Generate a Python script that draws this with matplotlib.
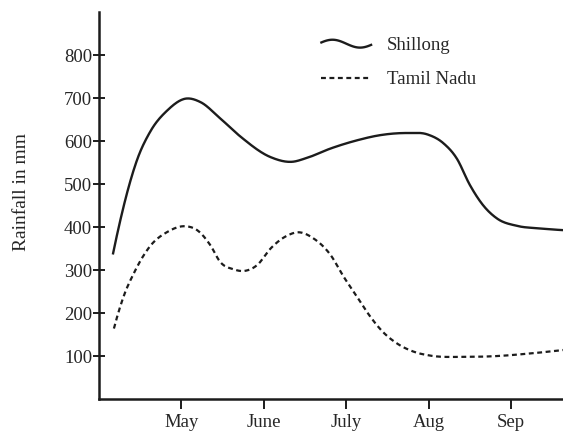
import numpy as np
import matplotlib
matplotlib.use("Agg")
import matplotlib.pyplot as plt
from matplotlib.lines import Line2D
from matplotlib.legend_handler import HandlerBase

# ---- data (month index: May=1 ... Sep=5) ----
months = ["May", "June", "July", "Aug", "Sep"]
month_pos = [1, 2, 3, 4, 5]
yticks = [100, 200, 300, 400, 500, 600, 700, 800]

shillong_t = [0.17, 0.26, 0.34, 0.46, 0.62, 0.83, 1.05, 1.23, 1.47, 1.72, 2.08, 2.34, 2.52,
              2.81, 3.13, 3.41, 3.74, 3.98, 4.18, 4.34, 4.50, 4.66, 4.83, 5.07, 5.35, 5.63]
shillong_v = [339, 418, 480, 556, 622, 672, 699, 691, 653, 610, 563, 552, 561,
              583, 602, 614, 619, 616, 595, 560, 498, 451, 420, 403, 397, 393]

tamil_t = [0.18, 0.30, 0.42, 0.62, 0.83, 1.05, 1.19, 1.35, 1.47, 1.63, 1.76, 1.92, 2.08, 2.28,
           2.42, 2.60, 2.81, 2.97, 3.13, 3.29, 3.45, 3.61, 3.82, 4.02, 4.42, 4.83, 5.23, 5.63]
tamil_v = [164, 240, 292, 356, 389, 402, 393, 358, 319, 302, 298, 312, 350, 380,
           388, 374, 335, 284, 238, 192, 155, 130, 110, 101, 98, 100, 106, 114]


def smooth(x, y, xn):
    """Cubic Hermite curve through the points with three-point slopes."""
    x = np.asarray(x, float); y = np.asarray(y, float)
    h = np.diff(x); d = np.diff(y) / h
    n = len(x); m = np.zeros(n)
    for k in range(1, n - 1):
        m[k] = (d[k - 1] * h[k] + d[k] * h[k - 1]) / (h[k - 1] + h[k])
    m[0] = 2 * d[0] - m[1]
    m[-1] = 2 * d[-1] - m[-2]
    idx = np.clip(np.searchsorted(x, xn) - 1, 0, n - 2)
    hh = h[idx]; s = (xn - x[idx]) / hh
    h00 = 2 * s**3 - 3 * s**2 + 1; h10 = s**3 - 2 * s**2 + s
    h01 = -2 * s**3 + 3 * s**2; h11 = s**3 - s**2
    return h00 * y[idx] + h10 * hh * m[idx] + h01 * y[idx + 1] + h11 * hh * m[idx + 1]


class WaveHandler(HandlerBase):
    def create_artists(self, legend, orig_handle, xdescent, ydescent,
                       width, height, fontsize, trans):
        xs = np.linspace(0, width, 60)
        ys = height / 2 + height * 0.3 * np.sin(np.linspace(-np.pi * 0.9, np.pi * 0.9, 60) + np.pi)
        ln = Line2D(xs - xdescent, ys - ydescent, color="#1c1c1c", lw=1.7)
        ln.set_transform(trans)
        return [ln]


plt.rcParams["font.family"] = ["Liberation Serif", "DejaVu Serif"]
ink = "#262626"

fig = plt.figure(figsize=(5.63, 4.38), dpi=100)
ax = fig.add_axes([0.176, 0.089, 0.824, 0.883])

xs1 = np.linspace(shillong_t[0], shillong_t[-1], 600)
xs2 = np.linspace(tamil_t[0], tamil_t[-1], 600)
l1, = ax.plot(xs1, smooth(shillong_t, shillong_v, xs1), color="#1c1c1c", lw=1.7)
l2, = ax.plot(xs2, smooth(tamil_t, tamil_v, xs2), color="#1c1c1c", lw=1.6,
              dashes=(2.2, 1.6))

ax.set_xlim(0, 5.63)
ax.set_ylim(0, 900)
ax.set_xticks(month_pos)
ax.set_xticklabels(months)
ax.set_yticks(yticks)
for s in ["top", "right"]:
    ax.spines[s].set_visible(False)
for s in ["left", "bottom"]:
    ax.spines[s].set_linewidth(1.8)
    ax.spines[s].set_color("#1c1c1c")
ax.tick_params(axis="y", direction="inout", length=8, width=1.4, labelsize=13.5,
               pad=1, color="#1c1c1c", labelcolor=ink)
ax.tick_params(axis="x", direction="out", length=7, width=1.4, labelsize=13.5,
               pad=4, color="#1c1c1c", labelcolor=ink)
ax.set_ylabel("Rainfall in mm", fontsize=14, color=ink)
ax.yaxis.set_label_coords(-0.148, 0.535)

ax.legend([l1, l2], ["Shillong", "Tamil Nadu"], handler_map={l1: WaveHandler()},
          loc="upper left", bbox_to_anchor=(0.459, 0.96), frameon=False,
          fontsize=13.5, handlelength=2.65, handletextpad=0.85, labelspacing=0.9,
          borderpad=0, labelcolor=ink)

fig.savefig("out.png", dpi=100)
